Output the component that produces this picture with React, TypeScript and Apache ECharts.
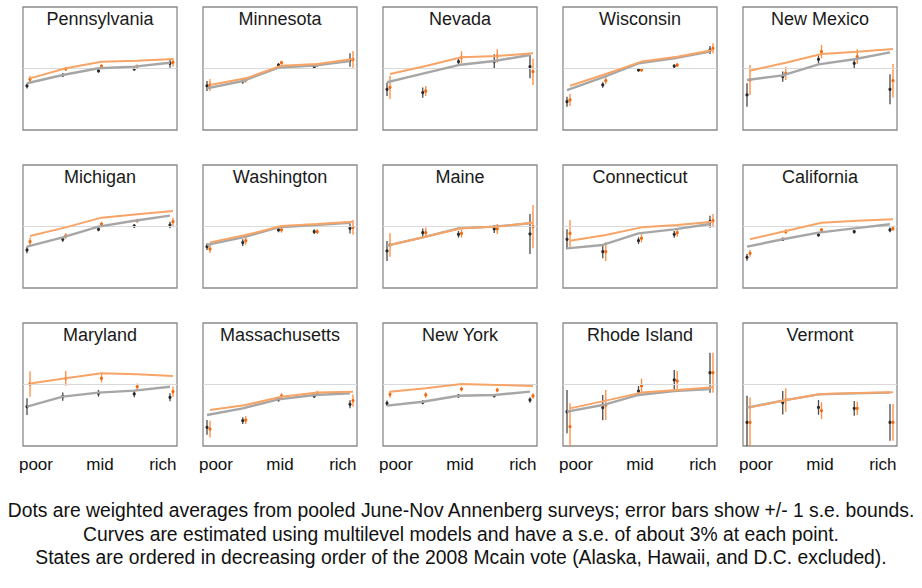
import React, { useEffect, useRef } from 'react';
import * as echarts from 'echarts';

const states = [
  'Pennsylvania', 'Minnesota', 'Nevada', 'Wisconsin', 'New Mexico',
  'Michigan', 'Washington', 'Maine', 'Connecticut', 'California',
  'Maryland', 'Massachusetts', 'New York', 'Rhode Island', 'Vermont',
];

const incomeLevels = [1, 2, 3, 4, 5];
const xLabelValues = [1.25, 3.04, 4.8];
const xLabelTexts = ['poor', 'mid', 'rich'];
const referenceLevel = 50;

const grayCurve = [
  [38.0, 44.7, 50.2, 51.5, 54.7],
  [33.9, 39.8, 50.7, 52.3, 56.1],
  [38.8, 45.8, 52.8, 56.1, 61.0],
  [32.5, 42.8, 54.2, 58.3, 63.7],
  [40.7, 44.4, 53.4, 57.5, 63.1],
  [33.6, 41.2, 49.9, 54.7, 58.8],
  [35.0, 41.2, 49.3, 51.2, 53.1],
  [34.4, 41.2, 48.5, 49.9, 52.6],
  [32.2, 35.0, 44.4, 47.7, 52.0],
  [33.6, 39.6, 45.0, 48.5, 51.8],
  [32.0, 40.1, 43.4, 45.0, 48.2],
  [25.2, 30.6, 37.9, 41.5, 42.8],
  [32.8, 36.0, 40.9, 41.5, 44.2],
  [27.9, 33.3, 41.5, 44.7, 46.3],
  [31.2, 36.9, 42.0, 42.8, 43.4],
];

const orangeCurve = [
  [42.0, 50.2, 55.5, 56.3, 57.7],
  [36.6, 42.0, 52.3, 53.7, 57.7],
  [45.5, 52.0, 59.1, 60.2, 62.3],
  [36.0, 45.5, 55.6, 59.6, 65.0],
  [48.2, 54.7, 61.8, 63.7, 65.9],
  [42.3, 49.3, 57.2, 59.9, 62.6],
  [37.1, 43.1, 50.4, 52.0, 53.9],
  [35.0, 41.7, 48.5, 49.9, 53.1],
  [38.5, 43.1, 49.3, 51.2, 53.9],
  [39.6, 46.3, 53.1, 54.7, 55.8],
  [50.9, 55.0, 59.1, 58.3, 56.9],
  [29.3, 33.3, 40.1, 43.4, 44.2],
  [44.2, 46.9, 50.4, 49.6, 48.8],
  [30.6, 36.9, 43.4, 45.5, 47.7],
  [31.4, 37.4, 42.3, 43.1, 43.6],
];

const grayDots = [
  [35.8, 44.7, 48.0, 49.6, 54.2],
  [35.8, 39.8, 52.8, 51.5, 56.9],
  [33.1, 30.4, 55.6, 55.6, 51.5],
  [23.0, 36.6, 48.8, 52.0, 65.0],
  [28.5, 43.4, 57.5, 54.2, 33.1],
  [30.9, 39.6, 47.7, 50.4, 51.2],
  [33.6, 36.9, 47.2, 45.8, 48.5],
  [30.1, 45.0, 43.6, 48.0, 43.9],
  [39.6, 29.5, 38.5, 43.6, 53.9],
  [24.9, 39.6, 43.1, 45.8, 47.2],
  [32.0, 40.1, 42.8, 42.3, 39.6],
  [15.2, 20.6, 37.9, 40.7, 33.9],
  [34.7, 35.5, 40.7, 40.9, 37.4],
  [27.9, 31.2, 44.7, 53.7, 59.6],
  [19.2, 35.2, 31.4, 30.6, 19.2],
];

const grayErr = [
  [2.0, 1.4, 1.4, 1.4, 3.5],
  [4.1, 2.2, 1.6, 1.1, 5.4],
  [5.4, 4.1, 2.7, 6.0, 9.5],
  [4.1, 2.2, 1.4, 1.4, 3.3],
  [9.5, 4.1, 3.3, 4.1, 12.2],
  [2.7, 1.9, 1.6, 1.4, 2.7],
  [2.7, 2.7, 1.9, 1.9, 4.1],
  [8.1, 3.3, 2.7, 3.3, 16.3],
  [8.1, 5.4, 2.7, 2.7, 4.9],
  [2.7, 1.4, 1.4, 1.4, 1.9],
  [6.8, 3.3, 2.7, 2.7, 3.3],
  [6.0, 2.7, 1.9, 1.6, 3.3],
  [2.2, 1.6, 1.4, 1.4, 2.2],
  [17.6, 10.3, 4.1, 8.1, 16.3],
  [21.7, 9.5, 6.0, 6.0, 14.9],
];

const orangeDots = [
  [41.2, 49.6, 52.0, 51.8, 55.0],
  [36.6, 40.7, 54.7, 52.8, 57.5],
  [34.7, 31.7, 59.1, 60.2, 47.4],
  [24.4, 40.1, 48.8, 52.8, 66.4],
  [40.7, 46.1, 63.7, 59.6, 40.1],
  [37.7, 42.3, 52.0, 54.7, 53.9],
  [31.7, 38.5, 47.2, 45.8, 49.3],
  [35.0, 45.0, 44.4, 48.0, 49.9],
  [44.4, 29.5, 40.4, 45.0, 54.7],
  [28.2, 45.8, 47.2, 49.3, 48.5],
  [50.4, 55.0, 55.0, 48.2, 44.2],
  [13.8, 21.1, 40.7, 42.8, 36.9],
  [42.0, 41.5, 46.3, 45.5, 40.7],
  [15.7, 33.3, 48.8, 52.8, 59.6],
  [19.2, 37.4, 28.7, 30.6, 19.2],
];

const orangeErr = [
  [2.7, 1.6, 1.4, 1.4, 3.4],
  [4.9, 2.2, 1.6, 1.4, 6.8],
  [9.5, 4.1, 4.9, 5.4, 10.8],
  [4.9, 2.7, 1.6, 1.6, 4.1],
  [12.2, 5.4, 5.4, 6.0, 13.6],
  [3.3, 2.2, 1.9, 1.6, 3.3],
  [3.3, 3.3, 2.2, 1.9, 6.0],
  [9.5, 4.1, 3.3, 4.1, 17.6],
  [10.8, 7.6, 3.3, 3.3, 5.4],
  [2.7, 1.9, 1.6, 1.4, 2.2],
  [10.3, 6.0, 3.3, 2.7, 4.1],
  [6.8, 3.3, 2.2, 2.2, 4.9],
  [2.7, 2.2, 1.9, 1.9, 2.2],
  [19.0, 12.2, 6.0, 8.1, 16.3],
  [20.3, 9.5, 6.8, 5.4, 14.9],
];

const captionLines = [
  'Dots are weighted averages from pooled June-Nov Annenberg surveys; error bars show +/- 1 s.e. bounds.',
  'Curves are estimated using multilevel models and have a s.e. of about 3% at each point.',
  'States are ordered in decreasing order of the 2008 Mcain vote (Alaska, Hawaii, and D.C. excluded).',
];

// layout
const FONT = '"Liberation Sans", Arial, Helvetica, sans-serif';
const PANEL_LEFTS = [23, 203, 383, 563, 743];
const PANEL_TOPS = [7, 165, 323];
const PANEL_W = 154;
const PANEL_H = 123;
const X_MIN = 0.888;
const X_MAX = 5.196;
const ORANGE_SHIFT = 0.084;
const CAPTION_SIZE = 20;
const CAPTION_WIDTH = 908;
const CAPTION_YS = [510, 534, 557];

function errorBarSeries(idx: number, dots: number[][], errs: number[][], shift: number, barColor: string, dotColor: string) {
  return {
    type: 'custom',
    xAxisIndex: idx,
    yAxisIndex: idx,
    clip: true,
    silent: true,
    encode: { x: 0, y: 1 },
    data: incomeLevels.map((lv, k) => [lv + shift, dots[idx][k], errs[idx][k]]),
    renderItem: (_params: any, api: any) => {
      const x = api.value(0);
      const y = api.value(1);
      const e = api.value(2);
      const top = api.coord([x, y + e]);
      const bot = api.coord([x, y - e]);
      const c = api.coord([x, y]);
      return {
        type: 'group',
        children: [
          {
            type: 'line',
            shape: { x1: top[0], y1: top[1], x2: bot[0], y2: bot[1] },
            style: { stroke: barColor, lineWidth: 1.3 },
          },
          {
            type: 'circle',
            shape: { cx: c[0], cy: c[1], r: 1.6 },
            style: { fill: dotColor },
          },
        ],
      };
    },
  };
}

export default function App() {
  const ref = useRef<HTMLDivElement>(null);

  useEffect(() => {
    if (!ref.current) return;
    const chart = echarts.init(ref.current, null, { renderer: 'svg' });

    let captionScale = 0.9;
    try {
      const ctx = document.createElement('canvas').getContext('2d');
      if (ctx) {
        ctx.font = `${CAPTION_SIZE}px ${FONT}`;
        const w = ctx.measureText(captionLines[0]).width;
        if (w > 0) captionScale = CAPTION_WIDTH / w;
      }
    } catch (e) {
      /* ignore */
    }

    const grids: any[] = [];
    const xAxes: any[] = [];
    const yAxes: any[] = [];
    const series: any[] = [];
    const graphics: any[] = [];

    states.forEach((name, i) => {
      const row = Math.floor(i / 5);
      const col = i % 5;
      const left = PANEL_LEFTS[col];
      const top = PANEL_TOPS[row];
      const bottomRow = row === 2;
      grids.push({
        left,
        top,
        width: PANEL_W,
        height: PANEL_H,
        show: true,
        borderColor: '#8a8a8a',
        borderWidth: 1.3,
        backgroundColor: 'transparent',
        containLabel: false,
      });
      xAxes.push({
        type: 'value',
        gridIndex: i,
        min: X_MIN,
        max: X_MAX,
        axisLine: { show: false },
        axisTick: { show: false },
        splitLine: { show: false },
        axisLabel: {
          show: bottomRow,
          customValues: xLabelValues,
          margin: 10,
          fontSize: 17,
          fontFamily: FONT,
          color: '#111',
          formatter: (v: number) => {
            let best = 0;
            xLabelValues.forEach((xv, k) => {
              if (Math.abs(xv - v) < Math.abs(xLabelValues[best] - v)) best = k;
            });
            return xLabelTexts[best];
          },
        },
      });
      yAxes.push({
        type: 'value',
        gridIndex: i,
        min: 0,
        max: 100,
        show: false,
        splitLine: { show: false },
      });
      series.push({
        type: 'line',
        xAxisIndex: i,
        yAxisIndex: i,
        silent: true,
        symbol: 'none',
        data: [[X_MIN, referenceLevel], [X_MAX, referenceLevel]],
        lineStyle: { color: '#d9d9d9', width: 1.2 },
      });
      series.push({
        type: 'line',
        xAxisIndex: i,
        yAxisIndex: i,
        silent: true,
        symbol: 'none',
        data: incomeLevels.map((lv, k) => [lv, grayCurve[i][k]]),
        lineStyle: { color: '#a6a6a6', width: 2.4 },
      });
      series.push({
        type: 'line',
        xAxisIndex: i,
        yAxisIndex: i,
        silent: true,
        symbol: 'none',
        data: incomeLevels.map((lv, k) => [lv + ORANGE_SHIFT, orangeCurve[i][k]]),
        lineStyle: { color: '#f7a467', width: 2 },
      });
      series.push(errorBarSeries(i, grayDots, grayErr, 0, '#4a4a4a', '#2a2a2a'));
      series.push(errorBarSeries(i, orangeDots, orangeErr, ORANGE_SHIFT, '#ff8a3d', '#f26a10'));

      graphics.push({
        type: 'text',
        x: left + PANEL_W / 2,
        y: top + 12,
        silent: true,
        style: {
          text: name,
          fontSize: 18,
          fontFamily: FONT,
          fill: '#1a1a1a',
          textAlign: 'center',
          align: 'center',
          textVerticalAlign: 'middle',
          verticalAlign: 'middle',
        },
      });
    });

    captionLines.forEach((line, k) => {
      graphics.push({
        type: 'text',
        x: 461,
        y: CAPTION_YS[k],
        scaleX: captionScale,
        silent: true,
        style: {
          text: line,
          fontSize: CAPTION_SIZE,
          fontFamily: FONT,
          fill: '#111',
          textAlign: 'center',
          align: 'center',
          textVerticalAlign: 'middle',
          verticalAlign: 'middle',
        },
      });
    });

    chart.setOption({
      animation: false,
      backgroundColor: '#ffffff',
      grid: grids,
      xAxis: xAxes,
      yAxis: yAxes,
      series,
      graphic: graphics,
    });

    return () => {
      chart.dispose();
    };
  }, []);

  return (
    <div
      ref={ref}
      style={{ position: 'fixed', left: 0, top: 0, width: 922, height: 588 }}
    />
  );
}
